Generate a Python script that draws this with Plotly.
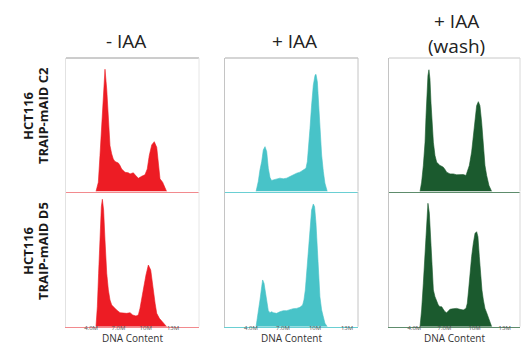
import plotly.graph_objects as go

# DNA content histograms (x in millions, y = relative cell count, % of panel scale)
c2_minus_x = [4.54, 4.80, 4.98, 5.17, 5.34, 5.53, 5.72, 5.89, 6.08, 6.27, 6.44, 6.63, 6.99, 7.18,
              7.36, 7.73, 8.09, 8.28, 8.64, 8.83, 9.19, 9.56, 9.92, 10.17, 10.39, 10.66, 10.94,
              11.21, 11.38, 11.57, 11.86, 12.12, 12.30]
c2_minus_y = [0, 6.9, 26.9, 51.7, 76.6, 91.6, 76.6, 51.7, 34.3, 28.1, 24.4, 22.4, 21.4, 19.4,
              16.9, 14.4, 14.0, 13.2, 14.0, 12.5, 9.9, 11.4, 12.5, 16.9, 26.9, 34.9, 37.3,
              33.1, 19.4, 9.5, 6.9, 3.2, 0]

c2_plus_x = [4.47, 4.68, 4.84, 5.00, 5.15, 5.31, 5.47, 5.62, 5.78, 5.93, 6.09, 6.40, 6.71, 7.03,
             7.34, 7.65, 7.96, 8.28, 8.59, 8.90, 9.15, 9.28, 9.40, 9.53, 9.68, 9.84, 10.00,
             10.09, 10.22, 10.34, 10.46, 10.62, 10.78, 10.93, 11.15]
c2_plus_y = [0, 7.5, 16.2, 22.4, 31.1, 33.6, 29.9, 17.4, 10.4, 8.2, 8.7, 9.5, 10.0, 9.5,
             10.0, 11.2, 12.5, 13.7, 14.5, 16.2, 17.4, 22.4, 32.4, 47.3, 64.7, 79.6, 87.1,
             87.8, 82.1, 64.7, 44.8, 27.4, 14.9, 6.2, 0]

c2_wash_x = [4.57, 4.73, 4.90, 5.07, 5.17, 5.26, 5.36, 5.46, 5.56, 5.66, 5.76, 5.90, 6.06, 6.23,
             6.39, 6.56, 6.73, 6.89, 7.06, 7.22, 7.56, 7.89, 8.22, 8.55, 8.88, 9.15, 9.28,
             9.48, 9.71, 9.88, 10.05, 10.21, 10.38, 10.54, 10.71, 10.88, 11.04, 11.21, 11.44,
             11.71]
c2_wash_y = [0, 7.0, 19.4, 36.9, 56.8, 74.3, 86.8, 91.2, 84.3, 66.9, 49.4, 36.9, 26.9, 22.0,
             20.7, 19.4, 18.9, 18.2, 16.5, 14.5, 13.2, 13.2, 12.5, 12.5, 12.7, 12.0, 14.5,
             19.4, 29.5, 41.9, 56.8, 64.3, 67.3, 64.3, 51.9, 34.4, 19.4, 12.0, 4.5, 0]

d5_minus_x = [4.54, 4.69, 4.83, 4.98, 5.13, 5.24, 5.38, 5.53, 5.72, 5.90, 6.08, 6.27, 6.45, 6.81,
              7.18, 7.54, 7.91, 8.28, 8.57, 8.93, 9.19, 9.37, 9.55, 9.73, 10.03, 10.29, 10.55,
              10.77, 11.03, 11.21, 11.50, 11.76, 12.01, 12.30]
d5_minus_y = [0, 14.8, 39.6, 69.3, 89.1, 94.6, 86.6, 64.4, 39.6, 27.2, 19.8, 16.1, 14.8, 12.4,
              10.4, 9.9, 9.9, 10.4, 8.7, 7.9, 8.7, 13.6, 22.3, 27.2, 38.4, 45.8, 42.1,
              29.7, 17.4, 9.9, 6.2, 4.2, 2.5, 0]

d5_plus_x = [4.47, 4.68, 4.84, 5.00, 5.09, 5.22, 5.34, 5.47, 5.62, 5.78, 5.93, 6.09, 6.40, 6.71,
             7.03, 7.34, 7.65, 7.96, 8.28, 8.59, 8.84, 8.96, 9.09, 9.22, 9.37, 9.53, 9.68,
             9.84, 9.96, 10.09, 10.22, 10.34, 10.46, 10.62, 10.78, 10.93, 11.15]
d5_plus_y = [0, 9.9, 19.8, 29.7, 34.7, 32.2, 24.8, 17.4, 11.9, 10.4, 11.1, 10.4, 9.9, 11.1,
             11.9, 11.9, 12.9, 13.4, 13.6, 14.4, 16.1, 19.8, 27.2, 39.6, 56.9, 74.2, 86.6,
             91.1, 89.1, 76.8, 56.9, 37.1, 22.3, 12.4, 6.2, 2.5, 0]

d5_wash_x = [4.57, 4.73, 4.90, 5.07, 5.23, 5.36, 5.50, 5.63, 5.76, 5.90, 6.06, 6.23, 6.39, 6.56,
             6.73, 6.89, 7.06, 7.22, 7.39, 7.56, 7.89, 8.22, 8.55, 8.88, 9.15, 9.28, 9.41,
             9.55, 9.71, 9.88, 10.05, 10.21, 10.34, 10.48, 10.61, 10.74, 10.88, 11.04, 11.21,
             11.37, 11.54, 11.71]
d5_wash_y = [0, 12.4, 32.2, 56.9, 81.7, 91.6, 84.2, 61.9, 39.6, 27.2, 22.3, 18.6, 16.1, 14.8,
             14.8, 12.9, 11.1, 10.4, 11.9, 12.9, 13.4, 13.6, 12.9, 12.4, 13.6, 17.4, 27.2,
             39.6, 52.0, 61.9, 69.3, 70.5, 66.8, 52.0, 37.1, 27.2, 19.8, 13.6, 10.4,
             7.4, 3.7, 0]

conditions = ["- IAA", "+ IAA", "+ IAA<br>(wash)"]
clones = ["TRAIP-mAID C2", "TRAIP-mAID D5"]
tick_vals = [4, 7, 10, 13]
tick_text = ["4.0M", "7.0M", "10M", "13M"]

panels = [
    [(c2_minus_x, c2_minus_y), (c2_plus_x, c2_plus_y), (c2_wash_x, c2_wash_y)],
    [(d5_minus_x, d5_minus_y), (d5_plus_x, d5_plus_y), (d5_wash_x, d5_wash_y)],
]

fill_colors = ["#ED1C24", "#48C3C8", "#1B5A2E"]
base_colors = ["#F28A8E", "#6ACFD3", "#5E8C6C"]
left_colors = ["#E2E2E2", "#C4C4C4", "#C4C4C4"]
top_colors = ["#9A9A9A", "#ABABAB", "#C8C8C8"]
right_colors = ["#E6E6E6", "#C4C4C4", "#D8D8D8"]

# axis ranges per column (each column has its own DNA-content scale)
x_ranges = [[1.25, 15.85], [1.56, 14.03], [1.48, 14.53]]

W, H = 522, 345
col_px = [(66, 199), (225, 358), (389, 520)]
row_px = [(58, 191.5), (192, 326.7)]


def px_x(p):
    return p / W


def px_y(p):
    return 1 - p / H


def label(text, x, y, size, color, angle=0):
    return dict(text=text, x=px_x(x), y=px_y(y), xref="paper", yref="paper",
                xanchor="center", yanchor="middle", showarrow=False, textangle=angle,
                font=dict(size=size, color=color, family="Open Sans"))


fig = go.Figure()
shapes = []
annotations = []
layout = {}

for r in range(2):
    for c in range(3):
        idx = r * 3 + c + 1
        xa = "x" if idx == 1 else f"x{idx}"
        ya = "y" if idx == 1 else f"y{idx}"
        xs, ys = panels[r][c]
        fig.add_trace(go.Scatter(
            x=xs, y=ys, xaxis=xa, yaxis=ya, mode="lines", fill="tozeroy",
            line=dict(color=fill_colors[c], width=0.6), fillcolor=fill_colors[c],
            hoverinfo="skip", showlegend=False,
        ))
        x0, x1 = col_px[c]
        y0, y1 = row_px[r]
        layout["xaxis" if idx == 1 else f"xaxis{idx}"] = dict(
            domain=[px_x(x0), px_x(x1)], range=x_ranges[c], anchor=ya,
            showgrid=False, zeroline=False, showline=True, linecolor=base_colors[c],
            linewidth=1, ticks="", tickvals=tick_vals, ticktext=tick_text,
            showticklabels=(r == 1), ticklabelstandoff=-5,
            tickfont=dict(size=6, color="#555555", family="Open Sans"),
            fixedrange=True,
        )
        layout["yaxis" if idx == 1 else f"yaxis{idx}"] = dict(
            domain=[px_y(y1), px_y(y0)], range=[0, 100], anchor=xa,
            showgrid=False, zeroline=False, showline=True, linecolor=left_colors[c],
            linewidth=1, showticklabels=False, ticks="", fixedrange=True,
        )
        if r == 0:
            shapes.append(dict(type="line", xref="paper", yref="paper",
                               x0=px_x(x0), x1=px_x(x1), y0=px_y(y0), y1=px_y(y0),
                               line=dict(color=top_colors[c], width=1)))
        shapes.append(dict(type="line", xref="paper", yref="paper",
                           x0=px_x(x1), x1=px_x(x1), y0=px_y(y1), y1=px_y(y0),
                           line=dict(color=right_colors[c], width=1)))

# column headers
title_pos = [(126, 41), (294, 41), (456, 33)]
for c, (tx, ty) in enumerate(title_pos):
    annotations.append(label(conditions[c], tx, ty, 19, "#222222"))

# x-axis titles
for c, (x0, x1) in enumerate(col_px):
    annotations.append(label("DNA Content", (x0 + x1) / 2, 338.3, 10, "#333333"))

# row labels
row_centers = [116, 251]
for r, cy in enumerate(row_centers):
    annotations.append(label("<b>HCT116</b>", 28, cy, 13, "#1a1a1a", -90))
    annotations.append(label(f"<b>{clones[r]}</b>", 43, cy, 13, "#1a1a1a", -90))

fig.update_layout(
    width=W, height=H, margin=dict(l=0, r=0, t=0, b=0),
    paper_bgcolor="white", plot_bgcolor="white",
    shapes=shapes, annotations=annotations, **layout,
)

fig.write_html("out.html", config={"displayModeBar": False})
